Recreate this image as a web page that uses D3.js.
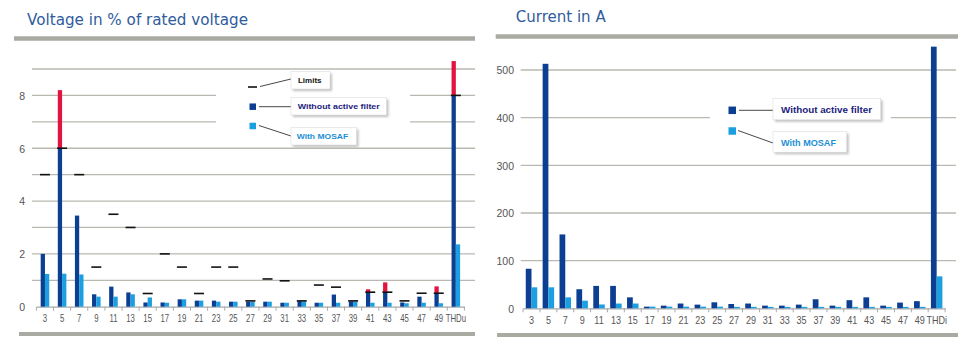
<!DOCTYPE html>
<html><head><meta charset="utf-8">
<script src="https://cdn.jsdelivr.net/npm/d3@7/dist/d3.min.js"></script>
<style>
html,body{margin:0;padding:0;background:#fff;}
svg{display:block;}
</style></head>
<body>
<svg id="chart" width="970" height="348"></svg>
<script>
// ---------- data ----------
const harmonics = ["3","5","7","9","11","13","15","17","19","21","23","25","27","29","31","33","35","37","39","41","43","45","47","49"];
const voltageCategories = harmonics.concat(["THDu"]);
const currentCategories = harmonics.concat(["THDi"]);

const voltageWithout = [2.0, 8.2, 3.45, 0.47, 0.76, 0.54, 0.16, 0.16, 0.28, 0.23, 0.23, 0.19, 0.19, 0.19, 0.15, 0.21, 0.15, 0.46, 0.2, 0.66, 0.92, 0.16, 0.38, 0.77, 9.3];
const voltageWithMosaf = [1.24, 1.25, 1.22, 0.38, 0.38, 0.47, 0.35, 0.15, 0.28, 0.23, 0.19, 0.19, 0.19, 0.19, 0.15, 0.2, 0.15, 0.15, 0.2, 0.15, 0.15, 0.13, 0.15, 0.13, 2.36];
const voltageLimits = [5, 6, 5, 1.5, 3.5, 3, 0.5, 2, 1.5, 0.5, 1.5, 1.5, 0.22, 1.05, 0.98, 0.22, 0.82, 0.74, 0.22, 0.55, 0.55, 0.22, 0.51, 0.51, 8];

const currentWithout = [83, 513, 155, 40, 47, 47, 23, 3.5, 5.6, 10, 7.7, 12.6, 9, 10, 5.6, 5.6, 7.7, 19, 5.6, 17, 23, 5.6, 12, 15, 549];
const currentWithMosaf = [44, 44, 23, 16, 8, 10, 10, 3.5, 3.5, 3.5, 3.5, 3.5, 3, 3, 3, 3, 3, 3, 3, 3, 3, 3, 3, 3, 67];

const voltageTicks = [0, 2, 4, 6, 8];
const voltageGrid = [1, 2, 3, 4, 5, 6, 7, 8, 9];
const currentTicks = [0, 100, 200, 300, 400, 500];
const currentGrid = [100, 200, 300, 400, 500];

const titles = ["Voltage in % of rated voltage", "Current in A"];
const legendLabels = ["Limits", "Without active filter", "With MOSAF"];

// ---------- styles ----------
const C_DARK = "#0c3f92", C_LIGHT = "#1c9fe0", C_RED = "#e2133f";
const C_GRID = "#b9b9b2", C_HEAD = "#a9aaa1", C_TITLE = "#2f5c9c", C_TXT = "#555";
const svg = d3.select("#chart");
const FONT = "'Liberation Sans', Arial, sans-serif";

function panel(o) {
  const g = svg.append("g");
  // header and footer rules
  g.append("line").attr("x1", o.headX[0]).attr("x2", o.headX[1]).attr("y1", o.headY).attr("y2", o.headY)
    .attr("stroke", C_HEAD).attr("stroke-width", 4.5);
  g.append("line").attr("x1", o.footX[0]).attr("x2", o.footX[1]).attr("y1", o.footY).attr("y2", o.footY)
    .attr("stroke", C_HEAD).attr("stroke-width", 4);
  g.append("text").attr("x", o.titleX).attr("y", o.titleY).text(o.title)
    .attr("font-family", "'DejaVu Sans', Verdana, sans-serif").attr("font-size", 15)
    .attr("fill", C_TITLE).attr("textLength", o.titleW).attr("lengthAdjust", "spacingAndGlyphs");

  const x = d3.scaleBand().domain(o.cats).range(o.xRange).paddingInner(o.pad).paddingOuter(o.pad / 2);
  const xs = d3.scaleBand().domain(["without", "with"]).range([0, x.bandwidth()]);
  const y = d3.scaleLinear().domain(o.yDomain).range(o.yRange);

  // gridlines
  g.append("g").selectAll("line").data(o.grid).join("line")
    .attr("x1", o.gridX[0]).attr("x2", o.gridX[1])
    .attr("y1", d => y(d)).attr("y2", d => y(d))
    .attr("stroke", C_GRID).attr("stroke-width", 1.3);

  // legend cover (interrupts gridlines)
  g.append("rect").attr("x", o.cover[0]).attr("y", o.cover[1]).attr("width", o.cover[2]).attr("height", o.cover[3]).attr("fill", "#fff");

  // y axis labels
  const ya = d3.axisLeft(y).tickValues(o.ticks).tickSize(0).tickPadding(0);
  const yg = g.append("g").attr("transform", `translate(${o.yLabelX},0)`).call(ya);
  yg.select(".domain").remove();
  yg.selectAll("text").attr("font-family", FONT).attr("font-size", 10.5).attr("fill", C_TXT).attr("dy", "0.36em");

  // x axis
  const xa = d3.axisBottom(x).tickSize(0).tickPadding(0);
  const xg = g.append("g").attr("transform", `translate(0,${y(0)})`).call(xa);
  xg.select(".domain").attr("stroke", "#aaa").attr("stroke-width", 1.2);
  xg.selectAll("text").attr("font-family", FONT).attr("font-size", 10.5).attr("fill", C_TXT)
    .attr("y", o.labelDy).attr("dy", 0).attr("transform", `scale(${o.labelScale},1)`);
  // boundary ticks
  const bounds = o.cats.map(c => x(c) - x.step() * x.paddingInner() / 2).concat([x(o.cats[o.cats.length - 1]) + x.bandwidth() + x.step() * x.paddingInner() / 2]);
  xg.append("g").selectAll("line").data(bounds).join("line")
    .attr("x1", d => d).attr("x2", d => d).attr("y1", 0).attr("y2", 4)
    .attr("stroke", "#aaa").attr("stroke-width", 1);

  // bars
  const bars = g.append("g");
  o.cats.forEach((c, i) => {
    const vw = o.without[i];
    const lim = o.limits ? o.limits[i] : Infinity;
    const top = Math.min(vw, lim);
    bars.append("rect").attr("x", x(c) + xs("without")).attr("width", xs.bandwidth())
      .attr("y", y(top)).attr("height", y(0) - y(top)).attr("fill", C_DARK);
    if (vw > lim) {
      bars.append("rect").attr("x", x(c) + xs("without")).attr("width", xs.bandwidth())
        .attr("y", y(vw)).attr("height", y(lim) - y(vw)).attr("fill", C_RED);
    }
    const vm = o.withM[i];
    bars.append("rect").attr("x", x(c) + xs("with")).attr("width", xs.bandwidth())
      .attr("y", y(vm)).attr("height", y(0) - y(vm)).attr("fill", C_LIGHT);
  });
  if (o.limits) {
    g.append("g").selectAll("line").data(o.cats).join("line")
      .attr("x1", (c) => x(c) + x.bandwidth() / 2 - 5).attr("x2", (c) => x(c) + x.bandwidth() / 2 + 5)
      .attr("y1", (c, i) => y(o.limits[i])).attr("y2", (c, i) => y(o.limits[i]))
      .attr("stroke", "#111").attr("stroke-width", 1.6);
  }

  // legend
  const lg = g.append("g");
  o.legend.forEach(L => {
    if (L.kind === "dash") {
      lg.append("line").attr("x1", L.mx).attr("x2", L.mx + 9).attr("y1", L.my).attr("y2", L.my).attr("stroke", "#111").attr("stroke-width", 1.6);
    } else {
      lg.append("rect").attr("x", L.mx).attr("y", L.my - L.ms / 2).attr("width", L.ms).attr("height", L.ms).attr("fill", L.color);
    }
    lg.append("line").attr("x1", L.l[0]).attr("y1", L.l[1]).attr("x2", L.l[2]).attr("y2", L.l[3]).attr("stroke", "#333").attr("stroke-width", 0.9);
    lg.append("rect").attr("x", L.box[0] + 2).attr("y", L.box[1] + 2).attr("width", L.box[2]).attr("height", L.box[3])
      .attr("fill", "#999").attr("opacity", 0.6).attr("filter", "url(#blur)");
    lg.append("rect").attr("x", L.box[0]).attr("y", L.box[1]).attr("width", L.box[2]).attr("height", L.box[3])
      .attr("fill", "#fff").attr("stroke", "#ddd").attr("stroke-width", 0.6);
    lg.append("text").attr("x", L.tx).attr("y", L.ty).text(L.text)
      .attr("font-family", FONT).attr("font-weight", "bold").attr("font-size", L.fs)
      .attr("fill", L.tc).attr("textLength", L.tw).attr("lengthAdjust", "spacingAndGlyphs");
  });
}

svg.append("defs").append("filter").attr("id", "blur").append("feGaussianBlur").attr("stdDeviation", 0.8);

panel({
  title: titles[0], titleX: 27, titleY: 25, titleW: 221,
  headX: [14, 475], headY: 38.5, footX: [19, 475], footY: 334,
  cats: voltageCategories, xRange: [36.4, 464.4], pad: 0.5,
  yDomain: [0, 9], yRange: [306.7, 69], grid: voltageGrid, ticks: voltageTicks,
  gridX: [32, 475], yLabelX: 25, labelDy: 15, labelScale: 0.74,
  cover: [216, 86, 194, 44],
  without: voltageWithout, withM: voltageWithMosaf, limits: voltageLimits,
  legend: [
    {kind: "dash", mx: 248, my: 87, l: [260, 86.5, 291, 79], box: [291, 71.5, 39, 17.5], text: legendLabels[0], tx: 298, ty: 83.3, fs: 8, tc: "#111", tw: 23.5},
    {kind: "sq", mx: 249.5, my: 106.7, ms: 6.5, color: C_DARK, l: [259, 106.7, 291, 106.7], box: [291, 97.5, 95.5, 17.5], text: legendLabels[1], tx: 297.7, ty: 109, fs: 8, tc: "#1b1b7d", tw: 82},
    {kind: "sq", mx: 249.5, my: 126, ms: 6.5, color: C_LIGHT, l: [259, 125.5, 291, 136], box: [291, 127.5, 65.5, 17.5], text: legendLabels[2], tx: 296.7, ty: 139, fs: 8, tc: "#1c8fd6", tw: 51.5}
  ]
});

panel({
  title: titles[1], titleX: 515.7, titleY: 22, titleW: 90,
  headX: [495.7, 958], headY: 36.5, footX: [497, 958], footY: 335,
  cats: currentCategories, xRange: [523.06, 945.1], pad: 0.32,
  yDomain: [0, 500], yRange: [308.3, 70], grid: currentGrid, ticks: currentTicks,
  gridX: [520.7, 956], yLabelX: 514, labelDy: 16, labelScale: 0.86,
  cover: [710, 100, 180.7, 40],
  without: currentWithout, withM: currentWithMosaf, limits: null,
  legend: [
    {kind: "sq", mx: 728.5, my: 110.3, ms: 7.5, color: C_DARK, l: [739, 110.3, 773, 110.3], box: [773, 98.3, 107.7, 21.5], text: legendLabels[1], tx: 781, ty: 112.5, fs: 9, tc: "#1b1b7d", tw: 91},
    {kind: "sq", mx: 728.5, my: 131, ms: 7.5, color: C_LIGHT, l: [738, 130.5, 773, 143], box: [773, 131.7, 73.7, 20.5], text: legendLabels[2], tx: 781, ty: 145.5, fs: 9, tc: "#1c8fd6", tw: 55}
  ]
});
</script>
</body></html>
